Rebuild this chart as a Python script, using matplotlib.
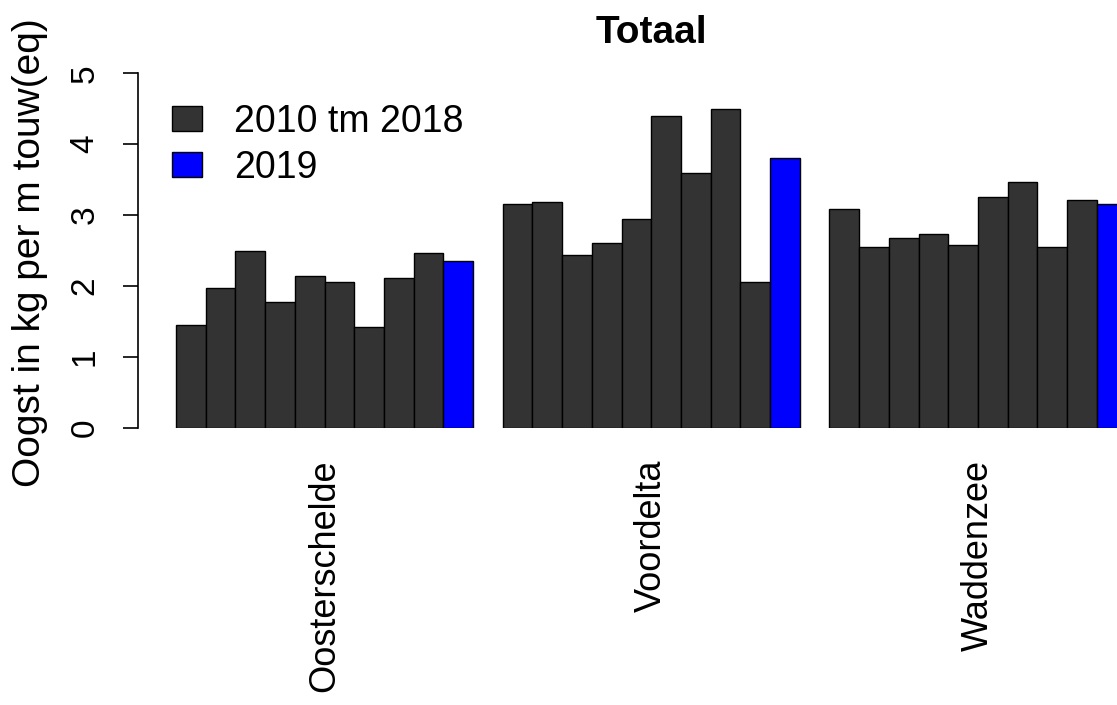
import numpy as np
import matplotlib
matplotlib.use('Agg')
import matplotlib.pyplot as plt
from matplotlib.patches import Patch

plt.rcParams['font.family'] = ['Liberation Sans', 'DejaVu Sans']

# gebieden en jaren
gebieden = ['Oosterschelde', 'Voordelta', 'Waddenzee']
jaren_oud = ['2010', '2011', '2012', '2013', '2014', '2015', '2016', '2017', '2018']

# oogst per jaar 2010 tm 2018, en 2019 apart
oosterschelde = [1.45, 1.97, 2.49, 1.77, 2.14, 2.06, 1.42, 2.11, 2.47]
voordelta = [3.16, 3.18, 2.44, 2.61, 2.95, 4.40, 3.59, 4.49, 2.06]
waddenzee = [3.09, 2.55, 2.67, 2.73, 2.58, 3.25, 3.47, 2.55, 3.21]
oogst_2019 = [2.35, 3.81, 3.15]

kleur_oud = '#333333'
kleur_2019 = '#0000ff'

fig = plt.figure(figsize=(11.17, 7.05), dpi=100)
W, H = 1117.0, 705.0
# assen in pixels: links 138, onder 427.7, boven 73.3
ax = fig.add_axes([138 / W, (H - 427.7) / H, 1 - 138 / W, (427.7 - 73.3) / H])

bar_px = 29.7
x0 = 176.0
ax.set_xlim((138 - x0) / bar_px, (W - x0) / bar_px)
ax.set_ylim(0, 5)

reeksen = [oosterschelde, voordelta, waddenzee]
for g, reeks in enumerate(reeksen):
    start = g * 11
    xs = start + np.arange(len(reeks))
    ax.bar(xs, reeks, width=1, align='edge', color=kleur_oud,
           edgecolor='black', linewidth=1.0)
    ax.bar(start + len(reeks), oogst_2019[g], width=1, align='edge',
           color=kleur_2019, edgecolor='black', linewidth=1.0)

for s in ['top', 'right', 'bottom']:
    ax.spines[s].set_visible(False)
ax.spines['left'].set_bounds(0, 5)
ax.spines['left'].set_linewidth(1.2)

ax.set_yticks([0, 1, 2, 3, 4, 5])
ax.set_yticklabels(['0', '1', '2', '3', '4', '5'], rotation=90, va='center')
ax.tick_params(axis='y', length=11, width=1.2, pad=16, labelsize=24)

ax.set_xticks([5 + g * 11 for g in range(3)])
ax.set_xticklabels(gebieden, rotation=90, va='top', ha='center')
ax.tick_params(axis='x', length=0, pad=23, labelsize=26)

handles = [Patch(facecolor=kleur_oud, edgecolor='black'),
           Patch(facecolor=kleur_2019, edgecolor='black')]
ax.legend(handles, ['2010 tm 2018', '2019'], loc='upper left',
          bbox_to_anchor=((172 - 138) / (W - 138), 1 - (104 - 73.3) / (427.7 - 73.3)),
          frameon=False, fontsize=27, handlelength=0.8, handleheight=0.65,
          handletextpad=0.85, labelspacing=0.27, borderpad=0, borderaxespad=0)

fig.text(651 / W, (H - 43) / H, 'Totaal', ha='center', va='baseline',
         fontsize=28, fontweight='bold')
fig.text(30 / W, (H - 253) / H, 'Oogst in kg per m touw(eq)', rotation=90,
         ha='center', va='center', fontsize=28)

fig.savefig('out.png', dpi=100)
